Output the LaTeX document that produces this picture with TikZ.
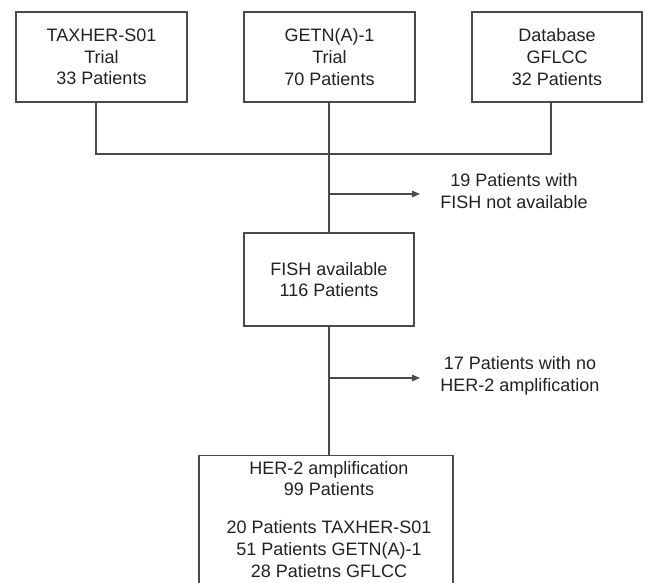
\documentclass[tikz,border=0pt]{standalone}
\usepackage{fontspec}
\setmainfont{Liberation Sans}
\usetikzlibrary{arrows.meta}
\definecolor{linec}{HTML}{4A4A4A}
\definecolor{textc}{HTML}{222222}
\tikzset{
  box/.style={draw=linec, line width=1.2pt, fill=white, align=center, inner sep=0pt,
              font=\fontsize{18}{21.7}\selectfont, text=textc},
  lbl/.style={align=center, inner sep=0pt, font=\fontsize{18}{21.7}\selectfont, text=textc},
  conn/.style={draw=linec, line width=1.2pt},
  arr/.style={conn, -{Triangle[length=8pt,width=6.5pt]}}
}
\begin{document}
\begin{tikzpicture}[x=1pt,y=-1pt]
\useasboundingbox (0,0) rectangle (648,583);
\node[box, minimum width=171pt, minimum height=90pt] (b1) at (101.5,57) {TAXHER-S01\\Trial\\33 Patients};
\node[box, minimum width=171pt, minimum height=90pt] (b2) at (329.5,57) {GETN(A)-1\\Trial\\70 Patients};
\node[box, minimum width=170pt, minimum height=90pt] (b3) at (557,57) {Database\\GFLCC\\32 Patients};
\node[box, minimum width=170pt, minimum height=93pt] (fish) at (329,279.5) {FISH available\\116 Patients};
\node[box, minimum width=254pt, minimum height=140pt, anchor=north] (her) at (326,455) {};
\node[lbl, anchor=north] (hert) at (329,461) {HER-2 amplification\\99 Patients\\[16pt]20 Patients TAXHER-S01\\51 Patients GETN(A)-1\\28 Patietns GFLCC};
\node[lbl] (t1) at (514,191) {19 Patients with\\FISH not available};
\node[lbl] (t2) at (520,376) {17 Patients with no\\HER-2 amplification};
\coordinate (j) at (329,154);
\coordinate (a1) at (329,194);
\coordinate (a1e) at (420,194);
\coordinate (a2) at (329,378);
\coordinate (a2e) at (420,378);
\draw[conn] ([xshift=-5.5pt]b1.south) |- (j);
\draw[conn] ([xshift=-6pt]b3.south) |- (j);
\draw[conn] (b2.south -| j) -- (j) -- (fish.north -| j);
\draw[conn] (fish.south) -- (fish.south |- her.north);
\draw[arr] (a1) -- (a1e);
\draw[arr] (a2) -- (a2e);
\end{tikzpicture}
\end{document}
